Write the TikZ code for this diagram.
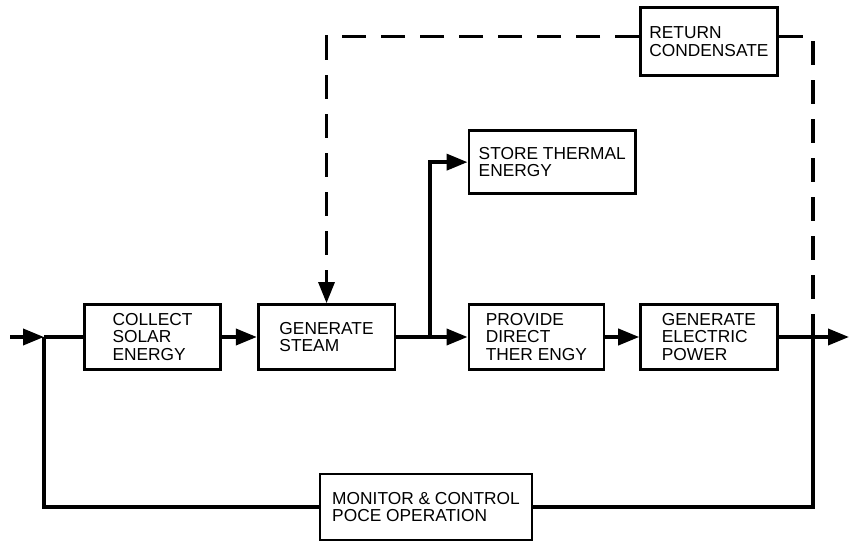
\documentclass[tikz,border=0pt]{standalone}
\usepackage{fontspec}
\setmainfont{Liberation Sans}
\usetikzlibrary{arrows.meta,positioning}
\tikzset{
  blk/.style={rectangle,draw,line width=2.3pt,align=left,
    minimum width=41mm,minimum height=19.5mm,inner sep=0pt,
    font=\fontsize{14.8}{15}\selectfont},
  flow/.style={line width=3.2pt},
  arr/.style={flow,-{Triangle[length=6.3mm,width=4.8mm]}},
  rtn/.style={line width=2.6pt,dash pattern=on 7.2mm off 4.5mm},
}

\begin{document}
\begin{tikzpicture}[x=0.3mm,y=-0.3mm]
  \useasboundingbox (0,0) rectangle (851,547);
  % main row
  \node[blk] (sol) at (152.5,337) {COLLECT\\SOLAR\\ENERGY};
  \node[blk,right=10.4mm of sol] (stm) {GENERATE\\STEAM};
  \node[blk,right=21.4mm of stm,minimum width=40.5mm] (dir) {PROVIDE\\DIRECT\\THER ENGY};
  \node[blk,right=10.2mm of dir] (pwr) {GENERATE\\ELECTRIC\\POWER};
  % upper boxes
  \node[blk,minimum width=50mm,minimum height=19mm,
    above=32.4mm of dir.north west,anchor=south west] (sto)
    {STORE THERMAL\\ENERGY};
  \node[blk,minimum height=20.4mm,
    above=67.8mm of pwr.north west,anchor=south west] (ret)
    {RETURN\\CONDENSATE};
  % control box
  \node[blk,minimum width=63.6mm,minimum height=19.8mm] (mon) at (426,507)
    {MONITOR \& CONTROL\\POCE OPERATION};

  \coordinate (in) at (10,337);
  \coordinate (jl) at (44,337);
  \coordinate (br) at (430,337);
  \coordinate (jr) at (813,337);
  \coordinate (out) at (849,337);

  \draw[arr] (in) -- (jl);
  \draw[flow] (jl) -- (sol);
  \draw[arr] (sol) -- (stm);
  \draw[flow] (stm) -- (br);
  \draw[arr] (br) -- (dir);
  \draw[arr] (br) |- (sto);
  \draw[arr] (dir) -- (pwr);
  \draw[arr] (pwr) -- (out);
  \draw[flow] (jl) |- (mon);
  \draw[flow] (mon) -| (jr);

  \draw[rtn,-{Triangle[length=6.3mm,width=4.8mm]}] ([yshift=1.5mm]ret.west) -| (stm);
  \draw[rtn] ([yshift=1.5mm]ret.east) -| (jr);
\end{tikzpicture}
\end{document}
